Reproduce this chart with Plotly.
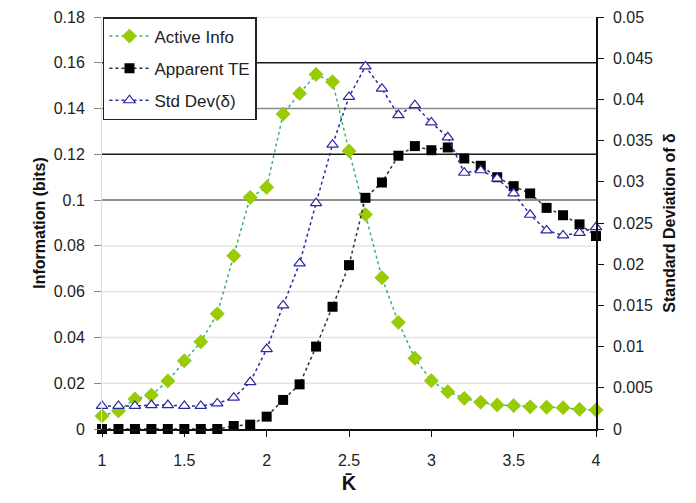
import plotly.graph_objects as go

k_bar = [1.0, 1.1, 1.2, 1.3, 1.4, 1.5, 1.6, 1.7, 1.8, 1.9, 2.0,
         2.1, 2.2, 2.3, 2.4, 2.5, 2.6, 2.7, 2.8, 2.9, 3.0,
         3.1, 3.2, 3.3, 3.4, 3.5, 3.6, 3.7, 3.8, 3.9, 4.0]

active_info = [0.0057, 0.0079, 0.0131, 0.0148, 0.0210, 0.0298, 0.0381, 0.0503, 0.0757, 0.1012, 0.1056,
               0.1376, 0.1466, 0.1549, 0.1517, 0.1215, 0.0937, 0.0661, 0.0466, 0.0309, 0.0211,
               0.0163, 0.0134, 0.0117, 0.0105, 0.0102, 0.0097, 0.0095, 0.0093, 0.0086, 0.0083]

apparent_te = [0.0, 0.0, 0.0, 0.0, 0.0, 0.0, 0.0, 0.0, 0.0013, 0.0019, 0.0054,
               0.0127, 0.0195, 0.0360, 0.0534, 0.0716, 0.1010, 0.1077, 0.1194, 0.1236, 0.1218,
               0.1230, 0.1182, 0.1150, 0.1100, 0.1061, 0.1029, 0.0966, 0.0934, 0.0894, 0.0843]

std_dev = [0.0028, 0.0028, 0.0028, 0.0029, 0.0029, 0.0028, 0.0028, 0.0031, 0.0038, 0.0057, 0.0097,
           0.0150, 0.0201, 0.0274, 0.0345, 0.0403, 0.0440, 0.0413, 0.0381, 0.0393, 0.0372,
           0.0354, 0.0311, 0.0314, 0.0304, 0.0286, 0.0260, 0.0241, 0.0235, 0.0238, 0.0245]

left_ticks = [0, 0.02, 0.04, 0.06, 0.08, 0.1, 0.12, 0.14, 0.16, 0.18]
left_labels = ["0", "0.02", "0.04", "0.06", "0.08", "0.1", "0.12", "0.14", "0.16", "0.18"]
right_ticks = [0, 0.005, 0.01, 0.015, 0.02, 0.025, 0.03, 0.035, 0.04, 0.045, 0.05]
right_labels = ["0", "0.005", "0.01", "0.015", "0.02", "0.025", "0.03", "0.035", "0.04", "0.045", "0.05"]
x_ticks = [1, 1.5, 2, 2.5, 3, 3.5, 4]
x_labels = ["1", "1.5", "2", "2.5", "3", "3.5", "4"]

FONT = "Liberation Sans, Arial, sans-serif"

# gridline styling (scanned original shows darker rules in the upper band)
grid_colors = {0.10: "#6a6a6a", 0.12: "#1a1a1a", 0.14: "#8a8a8a", 0.16: "#1a1a1a"}

fig = go.Figure()

fig.add_trace(go.Scatter(
    x=k_bar, y=active_info, name="Active Info", mode="lines+markers",
    line=dict(color="#3cb371", width=1.5, dash="dot"),
    marker=dict(symbol="diamond", size=11, color="#99cc00", line=dict(color="#88bb00", width=0.5)),
    cliponaxis=False, legendgroup="a"))

fig.add_trace(go.Scatter(
    x=k_bar, y=apparent_te, name="Apparent TE", mode="lines+markers",
    line=dict(color="#333333", width=1.5, dash="dot"),
    marker=dict(symbol="square", size=10, color="#000000"),
    cliponaxis=False, legendgroup="b"))

fig.add_trace(go.Scatter(
    x=k_bar, y=std_dev, name="Std Dev(δ)", mode="lines+markers", yaxis="y2",
    line=dict(color="#2a2aa0", width=1.5, dash="dot"),
    marker=dict(symbol="triangle-up", size=10, color="white", line=dict(color="#2a2aa0", width=1.2)),
    cliponaxis=False, legendgroup="c"))

grid_shapes = []
for yv in left_ticks[1:]:
    col = grid_colors.get(round(yv, 2), "#e4e4e4")
    grid_shapes.append(dict(type="line", xref="x domain", yref="y", x0=0, x1=1, y0=yv, y1=yv,
                            line=dict(color=col, width=1.5), layer="below"))

fig.update_layout(
    width=696, height=503,
    margin=dict(l=94, r=108, t=9, b=82, autoexpand=False),
    paper_bgcolor="white", plot_bgcolor="white",
    font=dict(family=FONT, size=16, color="#222222"),
    showlegend=True,
    shapes=grid_shapes,
    legend=dict(x=0.002, y=1.0, xanchor="left", yanchor="top",
                bgcolor="white", bordercolor="#222222", borderwidth=1.5,
                font=dict(family=FONT, size=17, color="#222222"),
                itemwidth=40, tracegroupgap=7, traceorder="grouped"),
    xaxis=dict(range=[1, 4], tickvals=x_ticks, ticktext=x_labels, automargin=False,
               showgrid=False, zeroline=False,
               showline=True, linecolor="#111111", linewidth=1.5,
               ticks="outside", ticklen=6, tickcolor="#111111", ticklabelstandoff=10,
               title=dict(text="<b>K\u0304</b>", font=dict(size=20, family=FONT, color="#111111"), standoff=8)),
    yaxis=dict(range=[0, 0.18], tickvals=left_ticks, ticktext=left_labels, automargin=False,
               showgrid=False, zeroline=False,
               showline=True, linecolor="#dddddd", linewidth=1,
               ticks="outside", ticklen=7, tickcolor="#888888", ticklabelstandoff=6,
               title=dict(text="<b>Information (bits)</b>", font=dict(size=16, family=FONT, color="#111111"), standoff=4)),
    yaxis2=dict(range=[0, 0.05], tickvals=right_ticks, ticktext=right_labels, automargin=False,
                overlaying="y", side="right", showgrid=False, zeroline=False,
                showline=True, linecolor="#111111", linewidth=1.5,
                ticks="outside", ticklen=6, tickcolor="#111111", ticklabelstandoff=6,
                title=dict(text="<b>Standard Deviation of δ</b>", font=dict(size=16, family=FONT, color="#111111"), standoff=12)),
)

fig.write_html("out.html")
